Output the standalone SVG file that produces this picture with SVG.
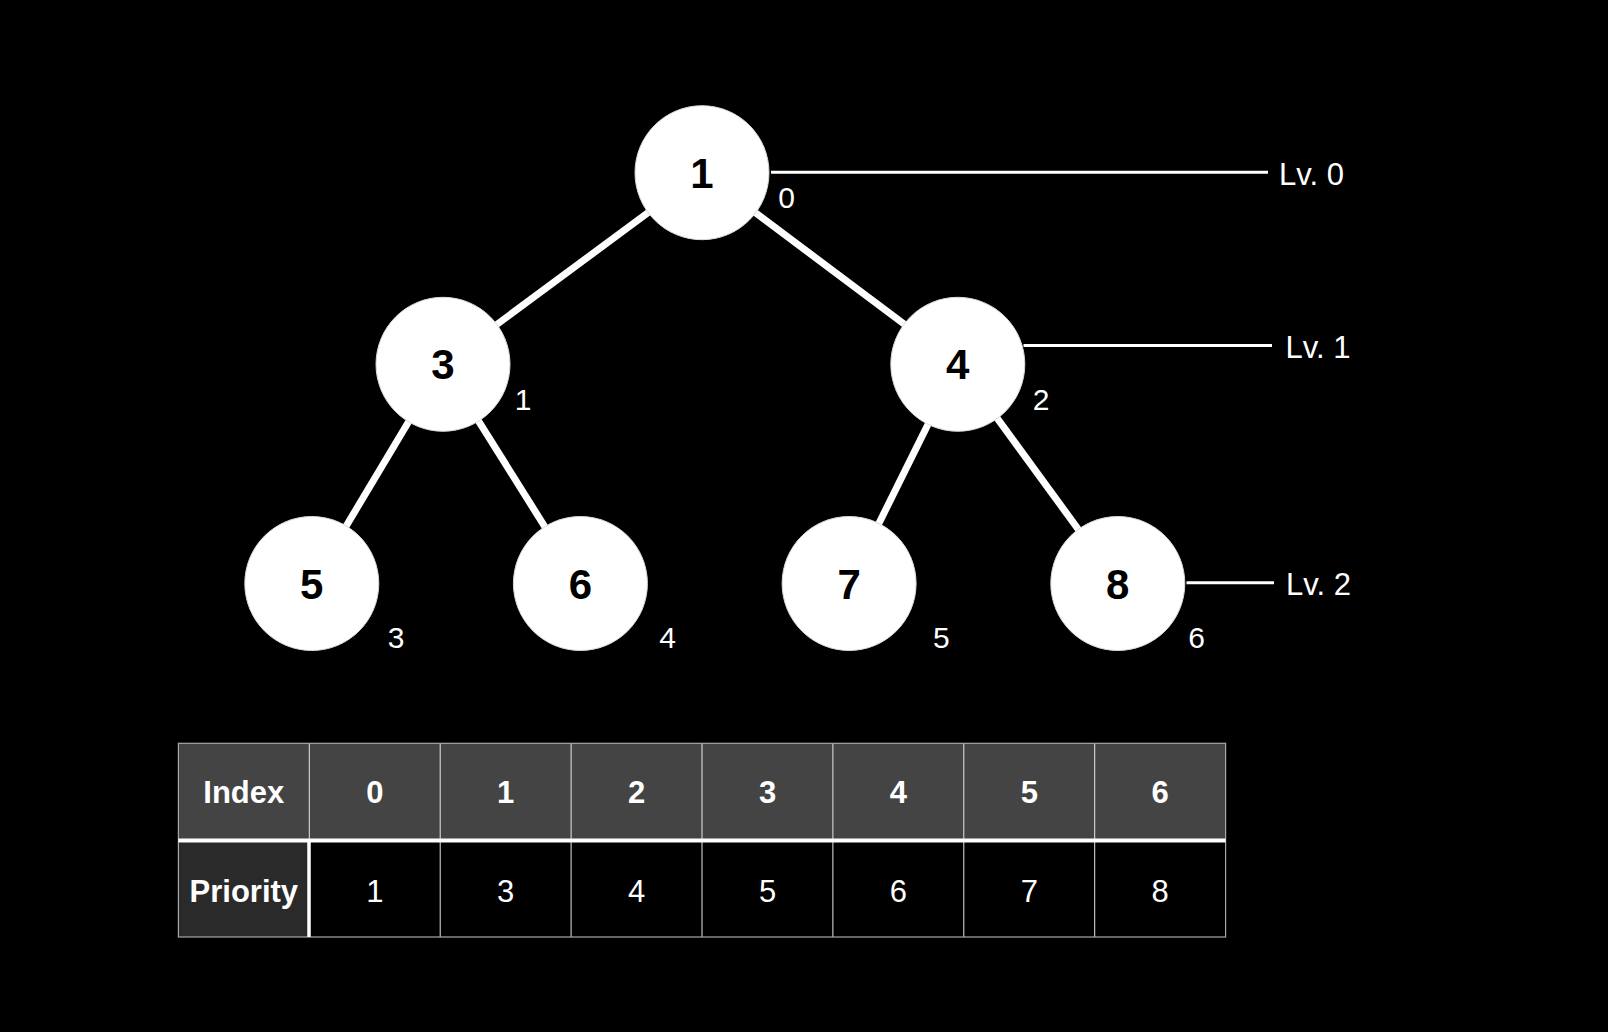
<svg xmlns="http://www.w3.org/2000/svg" width="1608" height="1032" viewBox="0 0 1608 1032">
<style>
.node circle{fill:#fff;stroke:#d9d9d9;stroke-width:1}
.node text.v{font-family:"Liberation Sans",Arial,sans-serif;font-weight:bold;font-size:42px;fill:#000;text-anchor:middle}
.idx{font-family:"Liberation Sans",Arial,sans-serif;font-size:30px;fill:#fff;text-anchor:middle}
.lv{font-family:"Liberation Sans",Arial,sans-serif;font-size:31px;fill:#fff}
.edge{stroke:#fff;stroke-width:7;fill:none}
.lvl{stroke:#fff;stroke-width:3;fill:none}
.th{font-family:"Liberation Sans",Arial,sans-serif;font-weight:bold;font-size:31px;fill:#fff;text-anchor:middle}
.td{font-family:"Liberation Sans",Arial,sans-serif;font-size:31px;fill:#fff;text-anchor:middle}
.grid{stroke:#e6e6e6;stroke-width:1;fill:none}
</style>
<rect x="0" y="0" width="1608" height="1032" fill="#000"/>
<g id="connectors">
<line class="edge" x1="702" y1="172.7" x2="443" y2="364.3"/>
<line class="edge" x1="702" y1="172.7" x2="957.8" y2="364.3"/>
<line class="edge" x1="443" y1="364.3" x2="311.8" y2="583.5"/>
<line class="edge" x1="443" y1="364.3" x2="580.4" y2="583.5"/>
<line class="edge" x1="957.8" y1="364.3" x2="849.1" y2="583.5"/>
<line class="edge" x1="957.8" y1="364.3" x2="1117.8" y2="583.5"/>
<line class="lvl" x1="771" y1="172.3" x2="1268" y2="172.3"/>
<line class="lvl" x1="1023.5" y1="345.6" x2="1272" y2="345.6"/>
<line class="lvl" x1="1186.5" y1="582.7" x2="1274" y2="582.7"/>
</g>
<g id="node-1" class="node"><circle cx="702" cy="172.7" r="67"/><text class="v" x="702" y="187.7">1</text><text class="idx" x="786.5" y="208.3">0</text></g>
<g id="node-3" class="node"><circle cx="443" cy="364.3" r="67"/><text class="v" x="443" y="379.3">3</text><text class="idx" x="523" y="410">1</text></g>
<g id="node-4" class="node"><circle cx="957.8" cy="364.3" r="67"/><text class="v" x="957.8" y="379.3">4</text><text class="idx" x="1041" y="410">2</text></g>
<g id="node-5" class="node"><circle cx="311.8" cy="583.5" r="67"/><text class="v" x="311.8" y="598.5">5</text><text class="idx" x="396" y="648">3</text></g>
<g id="node-6" class="node"><circle cx="580.4" cy="583.5" r="67"/><text class="v" x="580.4" y="598.5">6</text><text class="idx" x="667.6" y="648">4</text></g>
<g id="node-7" class="node"><circle cx="849.1" cy="583.5" r="67"/><text class="v" x="849.1" y="598.5">7</text><text class="idx" x="941.4" y="648">5</text></g>
<g id="node-8" class="node"><circle cx="1117.8" cy="583.5" r="67"/><text class="v" x="1117.8" y="598.5">8</text><text class="idx" x="1196.5" y="648">6</text></g>
<g id="levels">
<text class="lv" x="1279" y="184.5">Lv. 0</text>
<text class="lv" x="1285.5" y="357.5">Lv. 1</text>
<text class="lv" x="1286" y="594.5">Lv. 2</text>
</g>
<g id="table">
<rect x="178.4" y="743.3" width="1047.2" height="97" fill="#444"/>
<rect x="178.4" y="842" width="131" height="95" fill="#2a2a2a"/>
<g class="grid">
<line x1="309.3" y1="743.3" x2="309.3" y2="840"/>
<line x1="440.2" y1="743.3" x2="440.2" y2="937"/>
<line x1="571.1" y1="743.3" x2="571.1" y2="937"/>
<line x1="702" y1="743.3" x2="702" y2="937"/>
<line x1="832.9" y1="743.3" x2="832.9" y2="937"/>
<line x1="963.8" y1="743.3" x2="963.8" y2="937"/>
<line x1="1094.7" y1="743.3" x2="1094.7" y2="937"/>
</g>
<rect x="178.4" y="743.3" width="1047.2" height="193.7" fill="none" stroke="#a8a8a8" stroke-width="1.2"/>
<line x1="178.4" y1="840.6" x2="1225.6" y2="840.6" stroke="#fff" stroke-width="4"/>
<line x1="309" y1="840.6" x2="309" y2="937" stroke="#fff" stroke-width="3.5"/>
<text class="th" x="243.8" y="802.7">Index</text>
<text class="th" x="374.8" y="802.7">0</text>
<text class="th" x="505.7" y="802.7">1</text>
<text class="th" x="636.6" y="802.7">2</text>
<text class="th" x="767.5" y="802.7">3</text>
<text class="th" x="898.4" y="802.7">4</text>
<text class="th" x="1029.3" y="802.7">5</text>
<text class="th" x="1160.2" y="802.7">6</text>
<text class="th" x="243.8" y="902.3">Priority</text>
<text class="td" x="374.8" y="902.3">1</text>
<text class="td" x="505.7" y="902.3">3</text>
<text class="td" x="636.6" y="902.3">4</text>
<text class="td" x="767.5" y="902.3">5</text>
<text class="td" x="898.4" y="902.3">6</text>
<text class="td" x="1029.3" y="902.3">7</text>
<text class="td" x="1160.2" y="902.3">8</text>
</g>
</svg>
